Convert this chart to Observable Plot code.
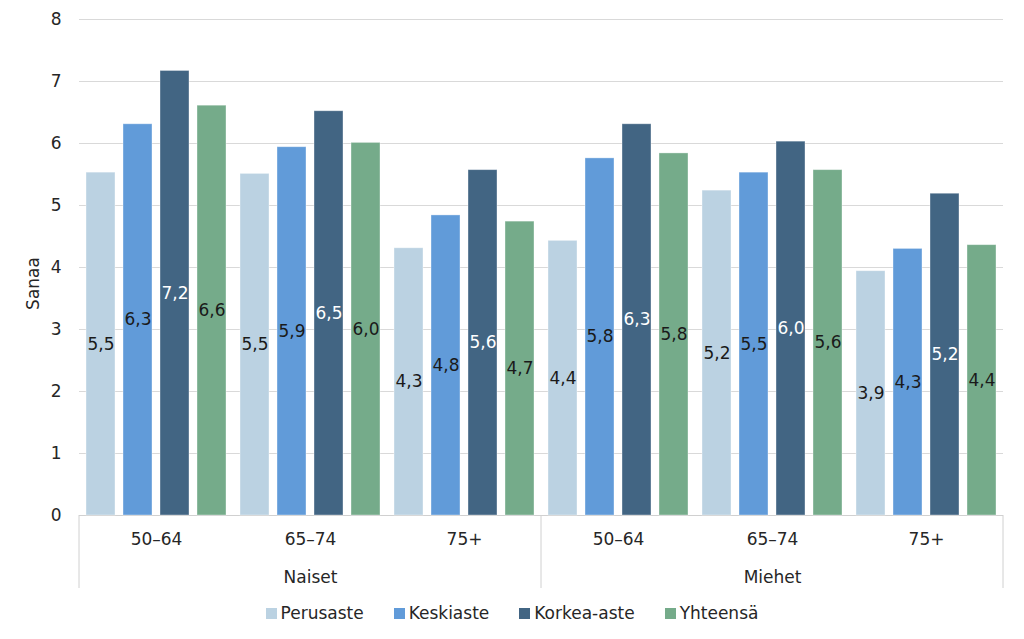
<!DOCTYPE html>
<html><head><meta charset="utf-8">
<script src="https://cdn.jsdelivr.net/npm/d3@7"></script>
<script src="https://cdn.jsdelivr.net/npm/@observablehq/plot@0.6"></script>
<style>
body{margin:0;background:#fff;font-family:"DejaVu Sans",sans-serif;}
#legend{display:flex;justify-content:center;gap:30px;margin-top:8px;font-size:17px;color:#262626;line-height:20px;}
#legend .item{display:flex;align-items:center;gap:4px;}
#legend .sw{width:11px;height:11px;display:inline-block;}
</style></head><body>
<div id="chart"></div><div id="legend"></div>
<script>
const genders = ["Naiset", "Miehet"];
const ages = ["50–64", "65–74", "75+"];
const educations = ["Perusaste", "Keskiaste", "Korkea-aste", "Yhteensä"];
const colors = ["#BBD2E2", "#619BD9", "#426583", "#75AB8A"];
// values per group: Naiset 50–64, 65–74, 75+, Miehet 50–64, 65–74, 75+
const perusaste = [5.53, 5.51, 4.31, 4.43, 5.24, 3.94];
const keskiaste = [6.31, 5.94, 4.84, 5.76, 5.53, 4.30];
const korkeaAste = [7.17, 6.52, 5.57, 6.31, 6.03, 5.19];
const yhteensa = [6.61, 6.01, 4.74, 5.84, 5.57, 4.36];
const yTicks = [0, 1, 2, 3, 4, 5, 6, 7, 8];

const series = [perusaste, keskiaste, korkeaAste, yhteensa];
const groups = [];
const rows = [];
genders.forEach((g, gi) => ages.forEach((a, ai) => {
  const key = g + "|" + a;
  groups.push(key);
  educations.forEach((e, ei) => rows.push({group: key, gender: g, age: a, edu: e, value: series[ei][gi * 3 + ai]}));
}));
const fmt = v => v.toFixed(1).replace(".", ",");

const plot = Plot.plot({
  width: 1024, height: 595,
  marginTop: 19, marginLeft: 77, marginRight: 19, marginBottom: 80,
  style: {fontFamily: "DejaVu Sans", fontSize: "17px", color: "#262626", background: "#fff"},
  fx: {domain: groups, padding: 0, label: null},
  x: {domain: educations, paddingInner: 0.214, paddingOuter: 0.153, axis: null},
  y: {domain: [0, 8], ticks: yTicks},
  color: {domain: educations, range: colors},
  marks: [
    Plot.ruleY(yTicks.filter(t => t > 0), {stroke: "#d9d9d9", strokeWidth: 1}),
    Plot.ruleY([0], {stroke: "#d0d0d0", strokeWidth: 1}),
    Plot.axisY({ticks: yTicks, tickSize: 0, tickPadding: 18, label: "Sanaa", labelAnchor: "center", labelArrow: "none", labelOffset: 53, fill: "#262626"}),
    Plot.axisFx({anchor: "bottom", tickSize: 0, tickPadding: 17, tickFormat: k => k.split("|")[1], label: null, fill: "#262626"}),
    Plot.barY(rows, {fx: "group", x: "edu", y: "value", fill: "edu", stroke: "white", strokeOpacity: 0.45, strokeWidth: 0.8}),
    Plot.text(rows, {filter: d => d.edu !== "Korkea-aste", fx: "group", x: "edu", y: d => d.value / 2, text: d => fmt(d.value), fill: "#1a1a1a", fontSize: 17}),
    Plot.text(rows, {filter: d => d.edu === "Korkea-aste", fx: "group", x: "edu", y: d => d.value / 2, text: d => fmt(d.value), fill: "#ffffff", fontSize: 17}),
    Plot.text(genders, {fx: g => g + "|" + ages[1], y: () => 0, dy: 62, text: d => d, fill: "#262626", fontSize: 17, lineAnchor: "middle"})
  ]
});

// category separators derived from the facet scale
const fxS = plot.scale("fx"), yS = plot.scale("y");
const y0 = yS.apply(0);
const edges = [fxS.apply(groups[0]), fxS.apply(groups[3]), fxS.apply(groups[5]) + fxS.bandwidth];
const svg = d3.select(plot);
edges.forEach(x => svg.append("line").attr("x1", x).attr("x2", x).attr("y1", y0).attr("y2", y0 + 73).attr("stroke", "#d0d0d0").attr("stroke-width", 1));
// the y-axis title sits slightly lower in the reference (centred on plot + category area)
svg.selectAll("g[aria-label='y-axis label']").each(function () {
  const t = this.getAttribute("transform") || "";
  this.setAttribute("transform", (t + " translate(0,16)").trim());
});

document.getElementById("chart").appendChild(plot);
const leg = document.getElementById("legend");
educations.forEach((e, i) => {
  const it = document.createElement("div"); it.className = "item";
  const sw = document.createElement("span"); sw.className = "sw"; sw.style.background = colors[i];
  const tx = document.createElement("span"); tx.textContent = e;
  it.appendChild(sw); it.appendChild(tx); leg.appendChild(it);
});
</script>
</body></html>
